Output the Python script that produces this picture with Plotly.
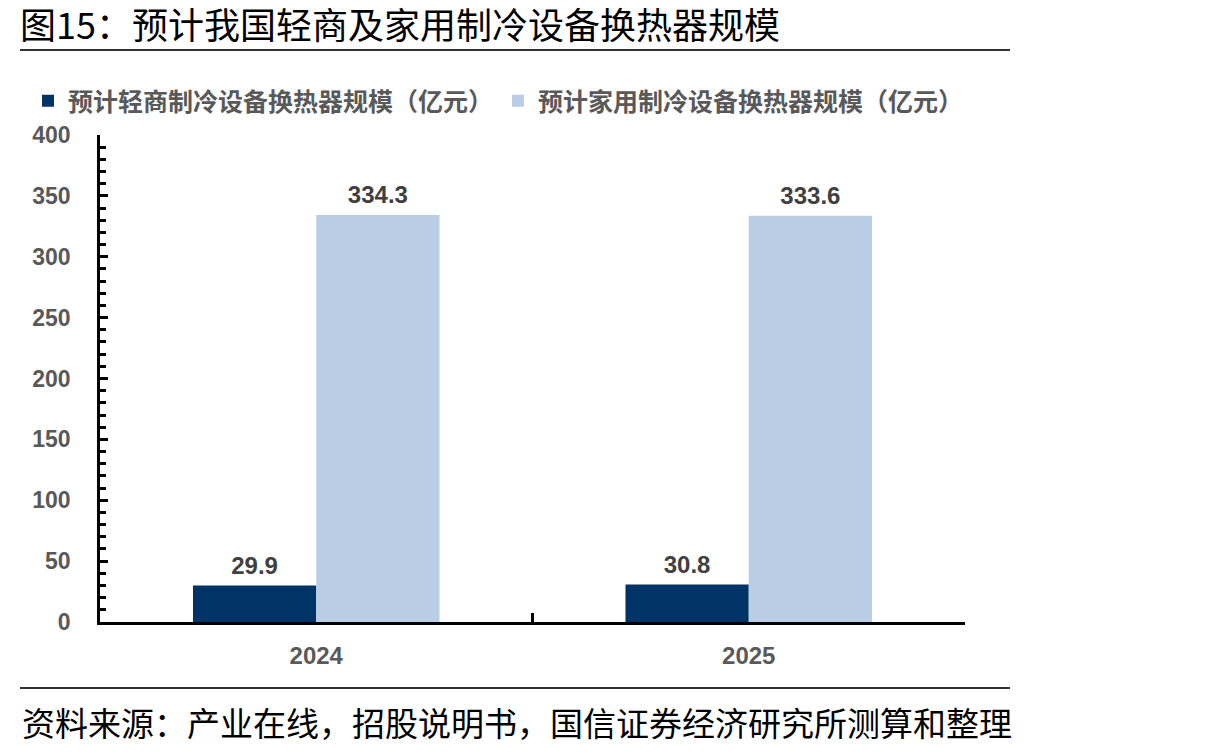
import plotly.graph_objects as go

categories = ["2024", "2025"]
light_commercial = [29.9, 30.8]
household = [334.3, 333.6]
series_names = ["预计轻商制冷设备换热器规模（亿元）", "预计家用制冷设备换热器规模（亿元）"]
title_text = "图15：预计我国轻商及家用制冷设备换热器规模"
source_text = "资料来源：产业在线，招股说明书，国信证券经济研究所测算和整理"

label_font = dict(family="Liberation Sans, Arial", size=6, color="#404040")


def fmt(v):
    return f"<span style='font-size:24px'><b>{v:.1f}</b></span><br> "


fig = go.Figure()
fig.add_trace(go.Bar(
    x=categories, y=light_commercial, name=series_names[0],
    marker=dict(color="#003366", line=dict(width=0)),
    text=[fmt(v) for v in light_commercial], textposition="outside",
    textfont=label_font, cliponaxis=False,
))
fig.add_trace(go.Bar(
    x=categories, y=household, name=series_names[1],
    marker=dict(color="#B9CDE5", line=dict(width=0)),
    text=[fmt(v) for v in household], textposition="outside",
    textfont=label_font, cliponaxis=False,
))

W, H = 1225, 755
L, R, T, B = 100, 965, 135, 622
pw, ph = R - L, B - T
def px(x):
    return (x - L) / pw
def py(y):
    return (B - y) / ph

fig.update_layout(
    width=W, height=H,
    margin=dict(l=L, r=W - R, t=T, b=H - B, autoexpand=False),
    paper_bgcolor="white", plot_bgcolor="white",
    barmode="group", bargap=0.43, bargroupgap=0,
    title=dict(text=title_text, x=20 / W, xanchor="left", xref="container",
               y=1 - 26 / H, yanchor="middle", yref="container",
               font=dict(family="Noto Sans CJK SC", size=36, color="#000000")),
    legend=dict(orientation="h", x=px(28), xanchor="left", y=py(101), yanchor="middle",
                font=dict(family="Noto Sans CJK SC", size=25, color="#595959", weight="bold"),
                itemsizing="constant", traceorder="normal", bgcolor="rgba(0,0,0,0)"),
    xaxis=dict(
        type="category", showline=True, linecolor="#000000", linewidth=2.5,
        ticks="inside", tickson="boundaries", ticklen=9, tickwidth=2.5, tickcolor="#000000",
        tickfont=dict(family="Liberation Sans, Arial", size=24, color="#595959", weight="bold"),
        showgrid=False, zeroline=False, ticklabelstandoff=10,
    ),
    yaxis=dict(
        range=[0, 400], dtick=50, showline=True, linecolor="#000000", linewidth=2.5,
        ticks="inside", ticklen=8, tickwidth=2.5, tickcolor="#000000",
        tickfont=dict(family="Liberation Sans, Arial", size=23, color="#595959", weight="bold"),
        minor=dict(dtick=10, ticks="inside", ticklen=6, tickwidth=2.5, tickcolor="#000000", showgrid=False),
        showgrid=False, zeroline=False, ticklabelstandoff=22,
    ),
    showlegend=True,
)

fig.add_shape(type="line", xref="paper", yref="paper", x0=px(20), x1=px(1010), y0=py(50), y1=py(50),
              line=dict(color="#333333", width=2))
fig.add_shape(type="line", xref="paper", yref="paper", x0=px(20), x1=px(1010), y0=py(688), y1=py(688),
              line=dict(color="#333333", width=2))
fig.add_annotation(text=source_text, xref="paper", yref="paper", x=px(20), xanchor="left",
                   y=py(722), yanchor="middle", showarrow=False,
                   font=dict(family="Noto Sans CJK SC", size=33, color="#000000"))

fig.write_html("out.html")
